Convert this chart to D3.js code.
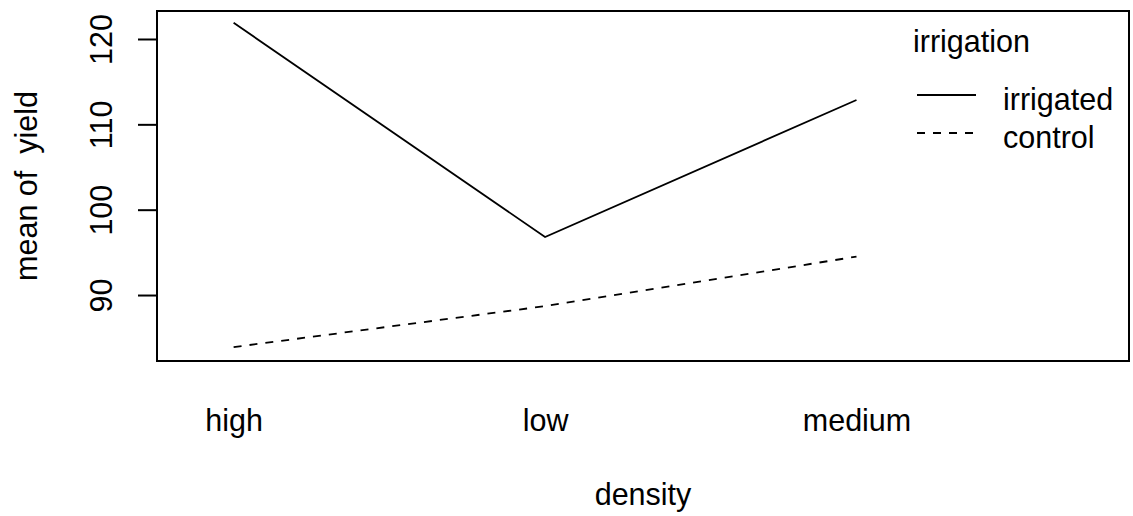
<!DOCTYPE html>
<html>
<head>
<meta charset="utf-8">
<script src="https://cdn.jsdelivr.net/npm/d3@7"></script>
<style>
html,body{margin:0;padding:0;background:#fff;}
svg text{font-family:"Liberation Sans",Arial,sans-serif;fill:#000;}
</style>
</head>
<body>
<svg id="chart" width="1133" height="516"></svg>
<script>
const categories = ["high", "low", "medium"];
const irrigatedValues = [121.9, 96.8, 112.85];
const controlValues = [83.9, 88.7, 94.5];
const yTicks = [90, 100, 110, 120];
const seriesNames = ["irrigated", "control"];
const legendTitle = "irrigation";
const xTitle = "density";
const yTitle = "mean of  yield";

const svg = d3.select("#chart");
const fs = 30.5;

const x = d3.scaleLinear().domain([0.754, 3.875]).range([157, 1129]);
const y = d3.scaleLinear().domain([82.27, 123.28]).range([361, 11]);

// plot box
svg.append("rect")
  .attr("x", x.range()[0]).attr("y", y.range()[1])
  .attr("width", x.range()[1] - x.range()[0])
  .attr("height", y.range()[0] - y.range()[1])
  .attr("fill", "none").attr("stroke", "#000").attr("stroke-width", 2);

// y axis
const yAxis = d3.axisLeft(y).tickValues(yTicks).tickSize(19).tickSizeOuter(0).tickPadding(0);
const gy = svg.append("g").attr("transform", `translate(${x.range()[0]},0)`).call(yAxis);
gy.select(".domain").remove();
gy.selectAll(".tick line").attr("stroke", "#000").attr("stroke-width", 2);
gy.selectAll(".tick text").remove();
gy.selectAll(".tick").append("text")
  .attr("transform", "translate(-45,0) rotate(-90)")
  .attr("text-anchor", "middle")
  .attr("font-size", fs)
  .text(d => d);

// x axis (labels only)
const xAxis = d3.axisBottom(x).tickValues(categories.map((c, i) => i + 1))
  .tickFormat((d, i) => categories[i]).tickSize(0).tickPadding(0);
const gx = svg.append("g").attr("transform", `translate(0,${y.range()[0]})`).call(xAxis);
gx.select(".domain").remove();
gx.selectAll(".tick text").attr("dy", null).attr("y", 70).attr("font-size", fs)
  .attr("font-family", "Liberation Sans, Arial, sans-serif").attr("fill", "#000");

// axis titles
const xMid = (x.range()[0] + x.range()[1]) / 2;
const yMid = (y.range()[0] + y.range()[1]) / 2;
svg.append("text").attr("x", xMid).attr("y", 505).attr("text-anchor", "middle")
  .attr("font-size", fs).text(xTitle);
svg.append("text").attr("transform", `translate(37,${yMid}) rotate(-90)`)
  .attr("text-anchor", "middle").attr("font-size", fs)
  .style("white-space", "pre").text(yTitle);

// lines
const line = d3.line().x((d, i) => x(i + 1)).y(d => y(d));
const series = [
  { name: seriesNames[0], values: irrigatedValues, dash: null },
  { name: seriesNames[1], values: controlValues, dash: "8,8" }
];
series.forEach(s => {
  svg.append("path").datum(s.values).attr("d", line)
    .attr("fill", "none").attr("stroke", "#000").attr("stroke-width", 1.8)
    .attr("stroke-dasharray", s.dash);
});

// legend
svg.append("text").attr("x", 913).attr("y", 52).attr("font-size", fs).text(legendTitle);
series.forEach((s, i) => {
  const ly = 95 + i * 38;
  svg.append("line").attr("x1", 917).attr("x2", 976).attr("y1", ly).attr("y2", ly)
    .attr("stroke", "#000").attr("stroke-width", 1.8).attr("stroke-dasharray", s.dash);
  svg.append("text").attr("x", 1003).attr("y", ly + 15).attr("font-size", fs).text(s.name);
});
</script>
</body>
</html>
